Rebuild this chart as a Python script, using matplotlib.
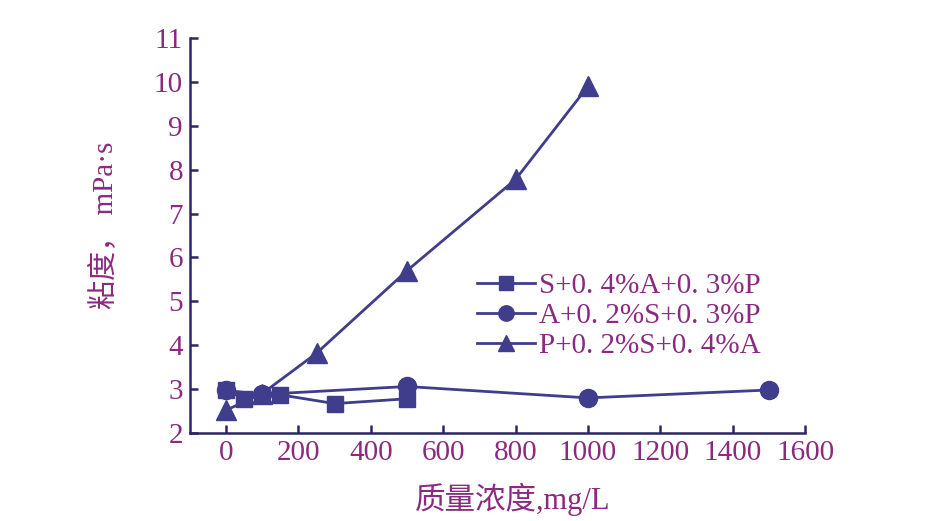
import matplotlib
matplotlib.use("Agg")
import matplotlib.pyplot as plt

# data
x_s = [0, 50, 150, 300, 500]
y_s = [2.98, 2.78, 2.87, 2.67, 2.78]
x_a = [0, 100, 500, 1000, 1500]
y_a = [2.97, 2.88, 3.06, 2.8, 2.98]
x_p = [0, 100, 250, 500, 800, 1000]
y_p = [2.52, 2.9, 3.82, 5.7, 7.78, 9.9]
labels = ["S+0. 4%A+0. 3%P", "A+0. 2%S+0. 3%P", "P+0. 2%S+0. 4%A"]
xticks = [0, 200, 400, 600, 800, 1000, 1200, 1400, 1600]
yticks = [2, 3, 4, 5, 6, 7, 8, 9, 10, 11]

line_c = "#3f3d8c"
text_c = "#8a2a80"
axis_c = "#2e2568"
num_font = ["Liberation Serif", "Noto Sans CJK SC"]

fig = plt.figure(figsize=(9.39, 5.21), dpi=100)
ax = fig.add_axes([0.2023, 0.1689, 0.655, 0.758])

kw = dict(color=line_c, lw=2.0, markeredgecolor=line_c, markerfacecolor=line_c)
ax.plot(x_s, y_s, marker="s", ms=12, label=labels[0], **kw)
ax.plot(x_a, y_a, marker="o", ms=13, label=labels[1], **kw)
ax.plot(x_p, y_p, marker="^", ms=14, label=labels[2], **kw)

ax.set_xlim(-100, 1600)
ax.set_ylim(2, 11)
ax.set_xticks(xticks)
ax.set_yticks(yticks)
for s in ["top", "right"]:
    ax.spines[s].set_visible(False)
for s in ["left", "bottom"]:
    ax.spines[s].set_color(axis_c)
    ax.spines[s].set_linewidth(1.8)
ax.tick_params(direction="in", length=6, width=1.8, color=axis_c,
               labelcolor=text_c, labelsize=21, pad=5)
for lab in ax.get_xticklabels() + ax.get_yticklabels():
    lab.set_fontfamily(num_font)

ax.set_xlabel("质量浓度,mg/L", fontsize=22, color=text_c, family=num_font)
ax.xaxis.set_label_coords(0.525, -0.125)
ax.set_ylabel("粘度， mPa·s", fontsize=21, color=text_c, family=num_font)
ax.yaxis.set_label_coords(-0.115, 0.525)

leg = ax.legend(loc="upper left", bbox_to_anchor=(0.447, 0.435), frameon=False,
                prop={"family": num_font, "size": 21}, labelcolor=text_c,
                handlelength=2.0, handletextpad=0.15, labelspacing=0.12,
                markerscale=0.85, borderaxespad=0)

fig.savefig("out.png", dpi=100)
